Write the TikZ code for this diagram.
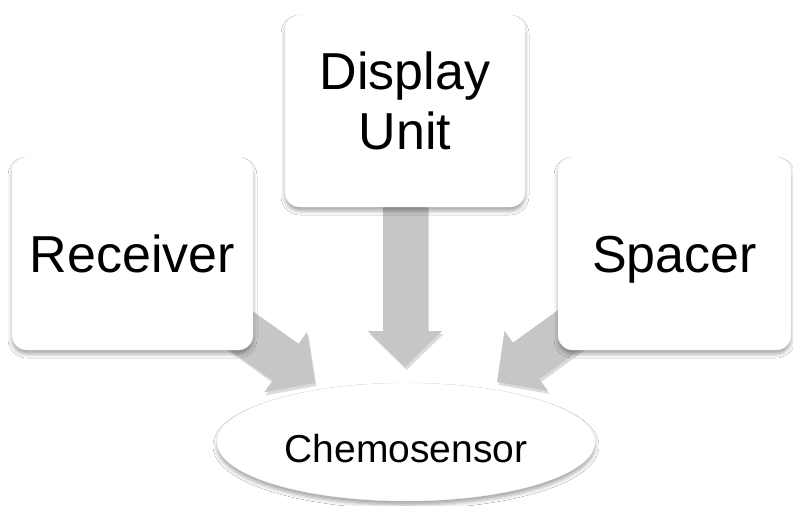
\documentclass[tikz,border=0pt]{standalone}
\usepackage{fontspec}
\setmainfont{Liberation Sans}
\usetikzlibrary{arrows.meta,shapes.geometric,shadows.blur}
\definecolor{arrowgray}{RGB}{198,198,198}
\pgfdeclarelayer{bg}
\pgfsetlayers{bg,main}
\begin{document}
\begin{tikzpicture}[x=1pt,y=-1pt,
  box/.style={rectangle, rounded corners=15pt, fill=white, draw=black!5, line width=0.4pt,
    blur shadow={shadow xshift=0pt, shadow yshift=-4pt, shadow blur radius=4pt, shadow opacity=35},
    font=\fontsize{52}{60}\selectfont, inner sep=0pt},
  boxtext/.style={font=\fontsize{52}{60}\selectfont, align=center, inner sep=0pt},
  bigarrow/.style={line width=45pt, draw=arrowgray, fill=arrowgray, -{Triangle[width=72pt,length=36pt]}},
  arrowshadow/.style={line width=45pt, draw=black!14, fill=black!14, -{Triangle[width=72pt,length=36pt]}, transform canvas={shift={(1.5pt,-3pt)}}},
  chemo/.style={ellipse, fill=white, draw=black!5, line width=0.4pt, inner sep=0pt,
    blur shadow={shadow xshift=0pt, shadow yshift=-4pt, shadow blur radius=4pt, shadow opacity=35},
    font=\fontsize{39}{46}\selectfont}
]
\useasboundingbox (0,0) rectangle (793,506);

\node[box, minimum width=241pt, minimum height=193pt, text height=37pt, text depth=0pt] (rec) at (132.5,253.5) {Receiver};
\node[box, minimum width=240pt, minimum height=192pt] (disp) at (405,111) {};
\node[boxtext] (dispT) at (405,101) {Display\\Unit};
\node[box, minimum width=233pt, minimum height=193pt, text height=37pt, text depth=0pt] (spa) at (674.5,253.5) {Spacer};

\node[chemo, minimum width=378pt, minimum height=118pt, text height=40pt, text depth=0pt] (chem) at (406,442) {Chemosensor};

\coordinate (tipL) at (315,383);
\coordinate (tipM) at (405,367);
\coordinate (tipR) at (497,382);

\begin{pgfonlayer}{bg}
  \fill[white] (0,0) rectangle (793,506);
  \foreach \s/\t in {rec/tipL, disp/tipM, spa/tipR} {
    \draw[arrowshadow] (\s.center) -- (\t);
    \draw[bigarrow] (\s.center) -- (\t);
  }
\end{pgfonlayer}
\end{tikzpicture}
\end{document}
